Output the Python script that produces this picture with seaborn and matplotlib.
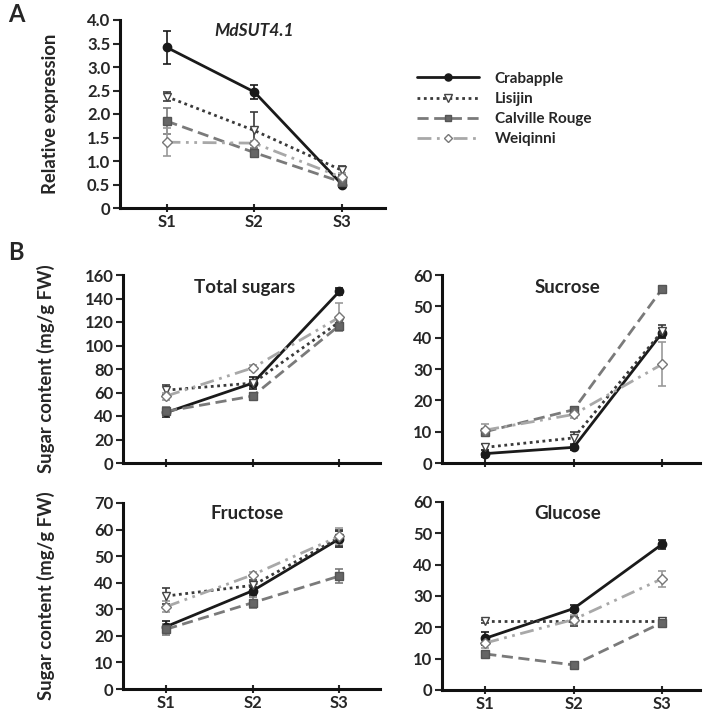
import numpy as np
import pandas as pd
import matplotlib
matplotlib.use('Agg')
import matplotlib.pyplot as plt
import seaborn as sns

stages = ['S1', 'S2', 'S3']
cultivars = ['Crabapple', 'Lisijin', 'Calville Rouge', 'Weiqinni']

# rows follow cultivars order
expr_mean = [[3.42, 2.47, 0.50], [2.37, 1.65, 0.80], [1.85, 1.18, 0.55], [1.40, 1.38, 0.65]]
expr_err = [[0.35, 0.15, 0.05], [0.10, 0.40, 0.10], [0.28, 0.10, 0.05], [0.30, 0.05, 0.10]]

total_mean = [[43, 68, 146], [62, 68, 120], [44, 57, 117], [57, 81, 124]]
total_err = [[4, 5, 3], [4, 3, 4], [4, 3, 5], [3, 2, 12]]

sucrose_mean = [[3, 5, 41.5], [5, 8, 42], [10, 17, 55.5], [10.5, 15.5, 31.5]]
sucrose_err = [[1, 0.8, 1.5], [1, 2, 2], [1, 1, 0.8], [2, 1, 7]]

fructose_mean = [[23.5, 37, 56.5], [35, 39, 57], [22.5, 32.5, 42.5], [31, 43, 57.5]]
fructose_err = [[2, 1.5, 3], [3, 2, 3], [2, 2, 2.5], [2, 1, 3]]

glucose_mean = [[16.5, 26, 46.5], [22, 22, 22], [11.5, 8, 21.5], [15, 22.5, 35.5]]
glucose_err = [[2, 1, 1.5], [0.5, 1.5, 0.5], [0.8, 0.8, 1], [1.5, 1.5, 2.5]]

sns.set_style('white')
plt.rcParams['font.family'] = ['Lato', 'DejaVu Sans']
plt.rcParams['font.weight'] = 'bold'

styles = {
    'Crabapple': dict(color='#1a1a1a', linestyle='-', marker='o', mfc='#1a1a1a', mec='#1a1a1a', ms=6, lw=2.0),
    'Lisijin': dict(color='#3a3a3a', linestyle=(0, (1, 1.3)), marker='v', mfc='white', mec='#444444', ms=6, lw=2.0),
    'Calville Rouge': dict(color='#7a7a7a', linestyle=(0, (4, 2)), marker='s', mfc='#666666', mec='#555555', ms=5.5, lw=2.0),
    'Weiqinni': dict(color='#a8a8a8', linestyle=(0, (5, 2, 1, 2, 1, 2)), marker='D', mfc='white', mec='#777777', ms=5, lw=2.0),
}


def long_df(means):
    rows = []
    for name, vals in zip(cultivars, means):
        for i, v in enumerate(vals):
            rows.append({'cultivar': name, 'pos': i + 1, 'value': v})
    return pd.DataFrame(rows)


def draw(ax, means, errs, ylim, yticks, ytick_labels, title, title_xy, italic=False,
         xlim=(0.5, 3.47), title_size=13.5):
    df = long_df(means)
    for k, name in enumerate(cultivars):
        st = styles[name]
        sub = df[df['cultivar'] == name]
        ax.errorbar(sub['pos'], sub['value'], yerr=errs[k], fmt='none',
                    ecolor=st['color'] if name != 'Weiqinni' else '#999999',
                    elinewidth=1.2, capsize=3, capthick=1.2, zorder=2)
        sns.lineplot(data=sub, x='pos', y='value', ax=ax, errorbar=None,
                     color=st['color'], linestyle=st['linestyle'], linewidth=st['lw'],
                     marker=st['marker'], markerfacecolor=st['mfc'],
                     markeredgecolor=st['mec'], markersize=st['ms'],
                     markeredgewidth=1.0, label=name, legend=False, zorder=3)
    ax.set_xlim(*xlim)
    ax.set_ylim(*ylim)
    ax.set_yticks(yticks)
    ax.set_yticklabels(ytick_labels)
    ax.set_xticks([1, 2, 3])
    ax.set_xticklabels(stages)
    ax.set_xlabel('')
    ax.set_ylabel('')
    for s in ['top', 'right']:
        ax.spines[s].set_visible(False)
    for s in ['left', 'bottom']:
        ax.spines[s].set_linewidth(2.2)
        ax.spines[s].set_color('#111111')
    ax.tick_params(axis='y', direction='out', length=5, width=1.5, labelsize=12, pad=2, left=True)
    ax.tick_params(axis='x', direction='inout', length=6, width=1.5, labelsize=12, pad=1, bottom=True)
    ax.text(title_xy[0], title_xy[1], title, ha='center', va='center', fontsize=title_size,
            fontweight='bold', style='italic' if italic else 'normal')


fig = plt.figure(figsize=(7.09, 7.12), dpi=100)
W, H = 709.0, 712.0


def add_axes(l, r, t, b):
    return fig.add_axes([l / W, 1 - b / H, (r - l) / W, (b - t) / H])


axA = add_axes(120, 385, 20, 208)
draw(axA, expr_mean, expr_err, (0, 4.0), np.arange(0, 4.01, 0.5),
     ['0', '0.5', '1.0', '1.5', '2.0', '2.5', '3.0', '3.5', '4.0'],
     'MdSUT4.1', (2.0, 3.77), italic=True, xlim=(0.47, 3.49), title_size=12.5)
axA.set_ylabel('Relative expression', fontsize=13.3, fontweight='bold')
axA.yaxis.set_label_coords(-0.23, 0.5)

ax1 = add_axes(123, 380, 275, 463)
draw(ax1, total_mean, total_err, (0, 160), np.arange(0, 161, 20),
     [str(v) for v in range(0, 161, 20)], 'Total sugars', (1.9, 149))
ax1.set_xticklabels([])
ax1.set_ylabel('Sugar content (mg/g FW)', fontsize=13.3, fontweight='bold')
ax1.yaxis.set_label_coords(-0.265, 0.5)

ax2 = add_axes(442, 700, 275, 463)
draw(ax2, sucrose_mean, sucrose_err, (0, 60), np.arange(0, 61, 10),
     [str(v) for v in range(0, 61, 10)], 'Sucrose', (1.93, 55.9), xlim=(0.51, 3.43))
ax2.set_xticklabels([])

ax3 = add_axes(123, 380, 503, 689)
draw(ax3, fructose_mean, fructose_err, (0, 70), np.arange(0, 71, 10),
     [str(v) for v in range(0, 71, 10)], 'Fructose', (1.93, 66.2))
ax3.set_ylabel('Sugar content (mg/g FW)', fontsize=13.3, fontweight='bold')
ax3.yaxis.set_label_coords(-0.265, 0.5)

ax4 = add_axes(442, 700, 502, 690)
draw(ax4, glucose_mean, glucose_err, (0, 60), np.arange(0, 61, 10),
     [str(v) for v in range(0, 61, 10)], 'Glucose', (1.93, 56.2), xlim=(0.51, 3.43))

handles = axA.get_lines()
handles = [h for h in handles if h.get_label() in cultivars]
fig.legend(handles, [h.get_label() for h in handles], loc='upper left',
           bbox_to_anchor=(403 / W, 1 - 58 / H), frameon=False, fontsize=11,
           handlelength=4.1, handletextpad=1.0, labelspacing=0.4, markerscale=0.85)

fig.text(8 / W, 1 - 15 / H, 'A', fontsize=17, fontweight='bold', va='center', ha='left')
fig.text(8 / W, 1 - 252 / H, 'B', fontsize=17, fontweight='bold', va='center', ha='left')

fig.savefig('out.png', dpi=100)
